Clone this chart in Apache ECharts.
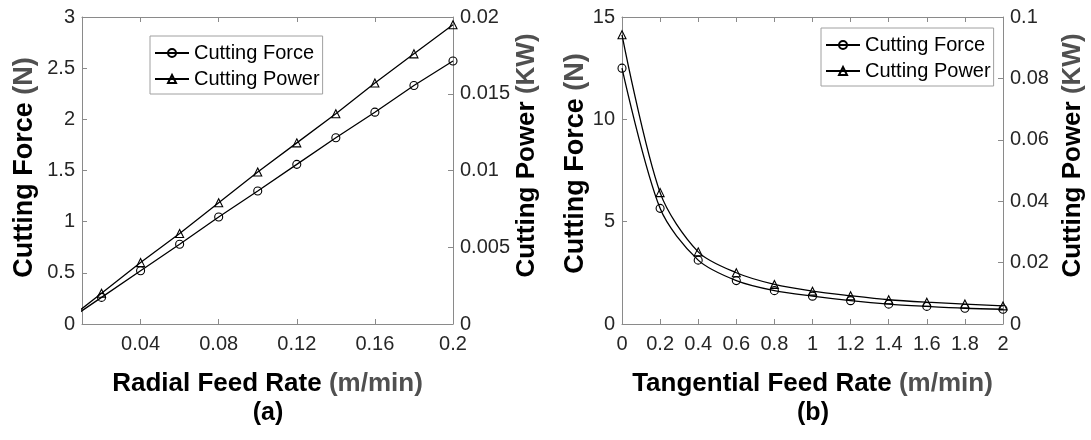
<!DOCTYPE html>
<html><head><meta charset="utf-8">
<script src="https://cdn.jsdelivr.net/npm/echarts@6/dist/echarts.min.js"></script>
<style>html,body{margin:0;padding:0;background:#fff}#c{width:1091px;height:440px}</style>
</head><body><div id="c"></div>
<script>
// ---- data: panel (a) radial feed rate ----
const radialRate  = [0, 0.02, 0.04, 0.06, 0.08, 0.10, 0.12, 0.14, 0.16, 0.18, 0.20];
const radialForce = [0, 0.26, 0.52, 0.78, 1.045, 1.30, 1.56, 1.82, 2.07, 2.33, 2.57];
const radialPower = [0, 0.0020, 0.0040, 0.0059, 0.0079, 0.0099, 0.0118, 0.0137, 0.0157, 0.0176, 0.0195];
const radialTicks = [0.04, 0.08, 0.12, 0.16, 0.2];
// ---- data: panel (b) tangential feed rate ----
const tangRate  = [0, 0.2, 0.4, 0.6, 0.8, 1.0, 1.2, 1.4, 1.6, 1.8, 2.0];
const tangForce = [12.5, 5.65, 3.12, 2.12, 1.63, 1.36, 1.14, 0.97, 0.86, 0.77, 0.72];
const tangPower = [0.0942, 0.0428, 0.0235, 0.0167, 0.0129, 0.0107, 0.0092, 0.0079, 0.0071, 0.0065, 0.0059];

const seriesNames = ['Cutting Force', 'Cutting Power'];
const FONT = 'Liberation Sans, Arial, sans-serif';
const AXC = '#8a8a8a', LBC = '#262626';

function zip(xs, ys){ return xs.map((x,i)=>[x, ys[i]]); }

function axisTitle(main, unit){
  return { name: '{m|' + main + ' }{u|' + unit + '}' };
}
function nameStyle(size, shift){
  return { fontFamily: FONT, padding: [0, 0, 0, shift || 0], rich: {
    m: { fontSize: size, fontWeight: 'bold', color: '#000', fontFamily: FONT },
    u: { fontSize: size, fontWeight: 'bold', color: '#505050', fontFamily: FONT } } };
}

function xAx(grid, opts){
  return Object.assign({
    type: 'value', gridIndex: grid, position: 'bottom',
    axisLine: { show: true, onZero: false, lineStyle: { color: AXC, width: 1 } },
    axisTick: { show: true, inside: true, length: 5, lineStyle: { color: AXC } },
    axisLabel: { show: true, fontSize: 20, color: LBC, fontFamily: FONT, margin: 10 },
    splitLine: { show: false },
    nameLocation: 'middle', nameTextStyle: nameStyle(26, 0)
  }, opts);
}
function yAx(grid, pos, shift, opts){
  return Object.assign({
    type: 'value', gridIndex: grid, position: pos,
    axisLine: { show: true, onZero: false, lineStyle: { color: AXC, width: 1 } },
    axisTick: { show: true, inside: true, length: 5, lineStyle: { color: AXC } },
    axisLabel: { show: true, fontSize: 20, color: LBC, fontFamily: FONT, margin: 7 },
    splitLine: { show: false },
    nameLocation: 'middle', nameRotate: 90, nameTextStyle: nameStyle(pos === 'left' ? 27 : 26, shift)
  }, opts);
}

function lineSeries(name, xi, yi, data, sym, smooth){
  return {
    name: name, type: 'line', xAxisIndex: xi, yAxisIndex: yi, data: data,
    symbol: sym, symbolSize: 8, showAllSymbol: true, clip: true,
    smooth: smooth,
    lineStyle: { color: '#000', width: 1.3 },
    itemStyle: { color: 'rgba(255,255,255,0)', borderColor: '#000', borderWidth: 1.1 },
    emphasis: { disabled: true }, animation: false
  };
}

function legendAt(left, top){
  return {
    orient: 'vertical', left: left, top: top, data: seriesNames,
    itemWidth: 34, itemHeight: 10, itemGap: 6,
    padding: [7, 3, 5, 4],
    borderColor: '#a0a0a0', borderWidth: 1, backgroundColor: '#fff',
    textStyle: { fontSize: 20, color: '#000', fontFamily: FONT },
    selectedMode: false
  };
}

const chart = echarts.init(document.getElementById('c'), null, { renderer: 'canvas' });
chart.setOption({
  backgroundColor: '#fff',
  animation: false,
  textStyle: { fontFamily: FONT },
  grid: [
    { left: 82, top: 17, width: 371, height: 307 },
    { left: 622, top: 17, width: 381, height: 307 }
  ],
  xAxis: [
    xAx(0, Object.assign({ min: 0.01, max: 0.2,
      axisLabel: { fontSize: 20, color: LBC, fontFamily: FONT, margin: 10, customValues: radialTicks },
      axisTick: { inside: true, length: 5, lineStyle: { color: AXC }, customValues: radialTicks },
      nameGap: 47 }, axisTitle('Radial Feed Rate', '(m/min)'))),
    xAx(0, { position: 'top', min: 0.01, max: 0.2,
      axisLabel: { show: false },
      axisTick: { inside: true, length: 5, lineStyle: { color: AXC }, customValues: radialTicks } }),
    xAx(1, Object.assign({ min: 0, max: 2, interval: 0.2, nameGap: 47 },
      axisTitle('Tangential Feed Rate', '(m/min)'))),
    xAx(1, { position: 'top', min: 0, max: 2, interval: 0.2, axisLabel: { show: false } })
  ],
  yAxis: [
    yAx(0, 'left', 6, Object.assign({ min: 0, max: 3, interval: 0.5, nameGap: 44 }, axisTitle('Cutting Force', '(N)'))),
    yAx(0, 'right', 30, Object.assign({ min: 0, max: 0.02, interval: 0.005, nameGap: 58 }, axisTitle('Cutting Power', '(KW)'))),
    yAx(1, 'left', 14, Object.assign({ min: 0, max: 15, interval: 5, nameGap: 30 }, axisTitle('Cutting Force', '(N)'))),
    yAx(1, 'right', 30, Object.assign({ min: 0, max: 0.1, interval: 0.02, nameGap: 57 }, axisTitle('Cutting Power', '(KW)')))
  ],
  legend: [ legendAt(150, 36), legendAt(821, 28) ],
  series: [
    lineSeries(seriesNames[0], 0, 0, zip(radialRate, radialForce), 'circle', false),
    lineSeries(seriesNames[1], 0, 1, zip(radialRate, radialPower), 'triangle', false),
    lineSeries(seriesNames[0], 2, 2, zip(tangRate, tangForce), 'circle', 0.3),
    lineSeries(seriesNames[1], 2, 3, zip(tangRate, tangPower), 'triangle', 0.3)
  ],
  graphic: [
    { type: 'text', style: { text: '(a)', x: 268, y: 413, align: 'center', verticalAlign: 'middle',
      font: 'bold 25px ' + FONT, fill: '#000' } },
    { type: 'text', style: { text: '(b)', x: 813, y: 413, align: 'center', verticalAlign: 'middle',
      font: 'bold 25px ' + FONT, fill: '#000' } }
  ]
});
</script>
</body></html>
